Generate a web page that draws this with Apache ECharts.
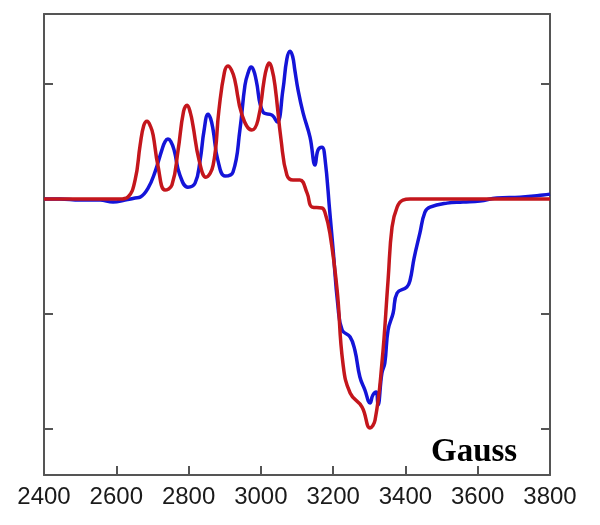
<!DOCTYPE html>
<html>
<head>
<meta charset="utf-8">
<script src="https://cdn.jsdelivr.net/npm/echarts@6/dist/echarts.min.js"></script>
<style>
  html, body { margin: 0; padding: 0; background: #fff; }
  #chart { width: 600px; height: 525px; }
</style>
</head>
<body>
<div id="chart"></div>
<script>
// x axis ticks (Gauss)
const xTicks = [2400, 2600, 2800, 3000, 3200, 3400, 3600, 3800];
// y ticks (no labels in the picture)
const yTicks = [-2, -1, 0, 1];

// red spectrum [field, signal]
const redCurve = [
  [2400, 0], [2500, 0], [2610, 0], [2632, 0.017], [2652, 0.165], [2666, 0.47],
  [2676, 0.64], [2685, 0.678], [2695, 0.63], [2702, 0.557], [2715, 0.296],
  [2735, 0.078], [2754, 0.122], [2771, 0.426], [2786, 0.76], [2796, 0.817],
  [2805, 0.75], [2812, 0.643], [2829, 0.339], [2848, 0.191], [2868, 0.296],
  [2884, 0.774], [2899, 1.1], [2909, 1.157], [2919, 1.12], [2928, 1.035],
  [2948, 0.73], [2975, 0.6], [2992, 0.687], [3009, 1.035], [3016, 1.14],
  [3023, 1.183], [3030, 1.14], [3039, 0.991], [3056, 0.513], [3072, 0.209],
  [3089, 0.165], [3108, 0.165], [3128, 0.052], [3142, -0.07], [3169, -0.078],
  [3177, -0.113], [3191, -0.296], [3211, -0.791], [3227, -1.426], [3247, -1.687],
  [3280, -1.809], [3302, -1.991], [3316, -1.922], [3335, -1.426], [3352, -0.704],
  [3363, -0.243], [3377, -0.07], [3393, -0.009], [3413, 0], [3606, 0], [3800, 0]
];

// blue spectrum [field, signal]
const blueCurve = [
  [2400, 0], [2444, 0], [2500, -0.009], [2555, -0.009], [2591, -0.026], [2624, -0.009],
  [2652, 0.009], [2666, 0.017], [2688, 0.096], [2707, 0.235], [2726, 0.426],
  [2735, 0.5], [2743, 0.522], [2751, 0.5], [2760, 0.426], [2776, 0.209],
  [2798, 0.104], [2818, 0.139], [2832, 0.339], [2843, 0.6], [2854, 0.739],
  [2861, 0.7], [2868, 0.6], [2881, 0.339], [2901, 0.2], [2923, 0.235],
  [2942, 0.6], [2956, 0.991], [2965, 1.1], [2973, 1.148], [2980, 1.12],
  [2987, 1.035], [3006, 0.757], [3031, 0.73], [3045, 0.67], [3061, 0.948],
  [3072, 1.22], [3081, 1.287], [3088, 1.24], [3094, 1.122], [3103, 0.948],
  [3117, 0.748], [3136, 0.539], [3150, 0.296], [3158, 0.426], [3169, 0.452],
  [3177, 0.365], [3191, -0.122], [3200, -0.443], [3213, -0.922], [3225, -1.139],
  [3247, -1.2], [3260, -1.313], [3274, -1.548], [3288, -1.661], [3302, -1.774],
  [3310, -1.704], [3319, -1.678], [3324, -1.791], [3335, -1.513], [3343, -1.426],
  [3352, -1.139], [3366, -0.991], [3377, -0.817], [3404, -0.765], [3413, -0.704],
  [3424, -0.513], [3440, -0.296], [3454, -0.113], [3468, -0.07], [3515, -0.035],
  [3559, -0.026], [3606, -0.017], [3653, 0.009], [3717, 0.017], [3781, 0.035],
  [3800, 0.043]
];

const myChart = echarts.init(document.getElementById("chart"));

const frameColor = "#555";

// y axis config shared by left / right
function yAxisCfg(pos) {
  return {
    type: "value",
    position: pos,
    min: -2.4,
    max: 1.61,
    axisLine: { show: true, lineStyle: { color: frameColor, width: 2 } },
    axisTick: {
      show: true,
      inside: true,
      length: 9,
      customValues: yTicks,
      lineStyle: { color: frameColor, width: 2 },
    },
    axisLabel: { show: false },
    splitLine: { show: false },
  };
}

let option = {
  animation: false,
  grid: { left: 44, right: 50, top: 14, bottom: 50 },
  xAxis: [
    {
      type: "value",
      min: 2400,
      max: 3800,
      interval: 200,
      axisLine: { show: true, onZero: false, lineStyle: { color: frameColor, width: 2 } },
      axisTick: {
        show: true,
        inside: true,
        length: 9,
        customValues: xTicks.slice(1, -1),
        lineStyle: { color: frameColor, width: 2 },
      },
      axisLabel: {
        customValues: xTicks,
        formatter: (v) => String(v),
        fontFamily: "Liberation Sans",
        fontSize: 24,
        color: "#1a1a1a",
        margin: 10,
      },
      splitLine: { show: false },
    },
    {
      type: "value",
      position: "top",
      min: 2400,
      max: 3800,
      axisLine: { show: true, onZero: false, lineStyle: { color: frameColor, width: 2 } },
      axisTick: { show: false },
      axisLabel: { show: false },
      splitLine: { show: false },
    },
  ],
  yAxis: [yAxisCfg("left"), yAxisCfg("right")],
  graphic: [
    {
      type: "text",
      left: 431,
      top: 436,
      style: {
        text: "Gauss",
        font: 'bold 33px "Liberation Serif"',
        fill: "#000",
      },
    },
  ],
  series: [
    {
      type: "line",
      data: blueCurve,
      showSymbol: false,
      smooth: 0.45,
      lineStyle: { color: "#1414d8", width: 3.5 },
    },
    {
      type: "line",
      data: redCurve,
      showSymbol: false,
      smooth: 0.45,
      lineStyle: { color: "#c4161c", width: 3.5 },
    },
  ],
};
myChart.setOption(option);
</script>
</body>
</html>
